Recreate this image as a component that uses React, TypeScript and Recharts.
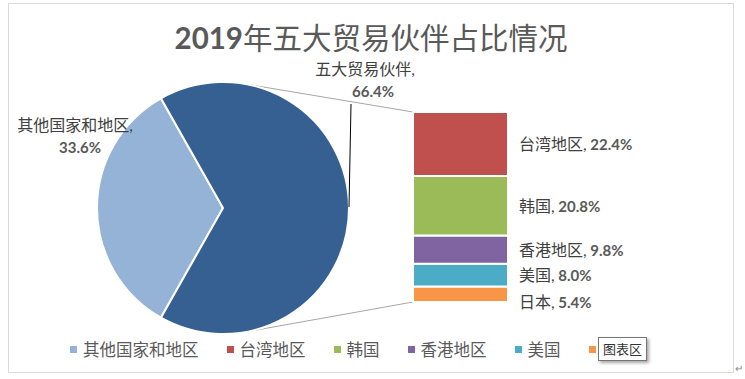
import { PieChart, Pie, Cell, BarChart, Bar, XAxis, YAxis } from 'recharts'

const title = '2019年五大贸易伙伴占比情况'
const otherName = '其他国家和地区'
const otherValue = 33.6
const partnerGroupName = '五大贸易伙伴'
const partnerNames = ['台湾地区', '韩国', '香港地区', '美国', '日本']
const partnerValues = [22.4, 20.8, 9.8, 8.0, 5.4]

const otherColor = '#95B3D7'
const groupColor = '#376092'
const partnerColors = ['#C0504D', '#9BBB59', '#8064A2', '#4BACC6', '#F79646']

const W = 745
const H = 379
const PIE_CX = 223
const PIE_CY = 208
const PIE_R = 126
const BAR_LEFT = 413
const BAR_RIGHT = 508
const BAR_TOP = 112
const BAR_BOTTOM = 302

const FONT = "Lato, 'Noto Sans CJK SC', sans-serif"
const TEXT = '#404040'
const NUM = '#595959'

const partnerTotal = partnerValues.reduce((a, b) => a + b, 0)
const pieData = [
  { name: otherName, value: otherValue },
  { name: partnerGroupName, value: partnerTotal },
]
const barRow: Record<string, any> = { cat: partnerGroupName }
partnerNames.forEach((n, i) => (barRow[n] = partnerValues[i]))
const barData = [barRow]

const startAngle = 180 - (otherValue / (otherValue + partnerTotal)) * 180
// label offsets from slice mid point on the rim (style only)
const pieLabelOffset = [
  { dx: -17, dy: -77, nameDx: -5 },
  { dx: 24, dy: -133, nameDx: -8 },
]

const RADIAN = Math.PI / 180

const PieLabel = (props: any) => {
  const { cx, cy, midAngle, outerRadius, index, name, value } = props
  const ex = cx + outerRadius * Math.cos(-midAngle * RADIAN)
  const ey = cy + outerRadius * Math.sin(-midAngle * RADIAN)
  const off = pieLabelOffset[index]
  const lx = ex + off.dx
  const ly = ey + off.dy
  return (
    <g>
      <text x={lx + off.nameDx} y={ly} textAnchor="middle" fontFamily={FONT} fontSize={16} fill={TEXT}>
        {name},
      </text>
      <text x={lx} y={ly + 22} textAnchor="middle" fontFamily={FONT} fontSize={15} fontWeight="bold" fill={NUM}>
        {Number(value).toFixed(1)}%
      </text>
      {index === 1 && <line x1={ex} y1={ey - 1} x2={ex + 2} y2={ly + 29} stroke="#000" strokeWidth={1} />}
    </g>
  )
}

const tangentPoint = (px: number, py: number, upper: boolean) => {
  const dx = px - PIE_CX
  const dy = py - PIE_CY
  const d = Math.sqrt(dx * dx + dy * dy)
  const phi = Math.atan2(dy, dx)
  const a = Math.acos(PIE_R / d)
  const t = upper ? phi - a : phi + a
  return { x: PIE_CX + PIE_R * Math.cos(t), y: PIE_CY + PIE_R * Math.sin(t) }
}

const makeBarLabel = (name: string, value: number) => (props: any) => {
  const { x, y, width, height } = props
  const ly = height < 18 ? y + height : y + height / 2
  return (
    <text x={x + width + 11} y={ly + 6} fontFamily={FONT} fontSize={16} fill={TEXT}>
      {name},<tspan fontWeight="bold" fill={NUM} fontSize={15}> {value.toFixed(1)}%</tspan>
    </text>
  )
}

export default function App() {
  const top = tangentPoint(BAR_LEFT, BAR_TOP, true)
  const bottom = tangentPoint(BAR_LEFT, BAR_BOTTOM, false)
  const legendNames = [otherName, ...partnerNames]
  const legendColors = [otherColor, ...partnerColors]

  return (
    <div style={{ position: 'absolute', left: 0, top: 0, width: W, height: H, background: '#fff', overflow: 'hidden' }}>
      <div
        style={{
          position: 'absolute',
          left: 8,
          top: 3,
          width: 726,
          height: 370,
          border: '1px solid #D9D9D9',
          boxSizing: 'border-box',
        }}
      />
      <svg width={W} height={H} style={{ position: 'absolute', left: 0, top: 0 }}>
        <text x={371} y={49} textAnchor="middle" fontFamily={FONT} fontSize={29.5} fill="#595959">
          <tspan fontWeight="bold">2019</tspan>
          {title.replace('2019', '')}
        </text>
        <line x1={top.x} y1={top.y} x2={BAR_LEFT} y2={BAR_TOP} stroke="#A6A6A6" strokeWidth={1} />
        <line x1={bottom.x} y1={bottom.y} x2={BAR_LEFT} y2={BAR_BOTTOM} stroke="#A6A6A6" strokeWidth={1} />
      </svg>
      <div style={{ position: 'absolute', left: 0, top: 0 }}>
        <PieChart width={W} height={H} margin={{ top: 0, right: 0, bottom: 0, left: 0 }}>
          <Pie
            data={pieData}
            dataKey="value"
            nameKey="name"
            cx={PIE_CX}
            cy={PIE_CY}
            outerRadius={PIE_R}
            startAngle={startAngle}
            endAngle={startAngle + 360}
            stroke="#fff"
            strokeWidth={2}
            label={PieLabel}
            labelLine={false}
            isAnimationActive={false}
          >
            <Cell fill={otherColor} />
            <Cell fill={groupColor} />
          </Pie>
        </PieChart>
      </div>
      <div style={{ position: 'absolute', left: 0, top: 0 }}>
        <BarChart
          width={W}
          height={H}
          data={barData}
          margin={{ top: BAR_TOP, bottom: H - BAR_BOTTOM, left: BAR_LEFT, right: W - BAR_RIGHT }}
          barCategoryGap={0}
        >
          <XAxis dataKey="cat" hide />
          <YAxis hide domain={[0, partnerTotal]} />
          {[...partnerNames].reverse().map((n) => {
            const i = partnerNames.indexOf(n)
            return (
              <Bar
                key={n}
                dataKey={n}
                stackId="a"
                fill={partnerColors[i]}
                stroke="#fff"
                strokeWidth={2}
                label={makeBarLabel(n, partnerValues[i])}
                isAnimationActive={false}
              />
            )
          })}
        </BarChart>
      </div>
      <div
        style={{
          position: 'absolute',
          left: 70,
          top: 337,
          display: 'flex',
          alignItems: 'center',
          fontFamily: FONT,
          fontSize: 16.5,
          color: '#595959',
          whiteSpace: 'nowrap',
        }}
      >
        {legendNames.map((n, i) => (
          <div key={n} style={{ display: 'flex', alignItems: 'center', marginRight: 28 }}>
            <span style={{ width: 7, height: 7, background: legendColors[i], marginRight: 6, display: 'inline-block' }} />
            <span>{n}</span>
          </div>
        ))}
      </div>
      <div
        style={{
          position: 'absolute',
          left: 598,
          top: 337,
          width: 49,
          height: 24,
          border: '1px solid #767676',
          background: '#fff',
          boxShadow: '2px 2px 3px rgba(0,0,0,0.35)',
          fontFamily: FONT,
          fontSize: 13,
          color: '#333',
          lineHeight: '22px',
          textAlign: 'center',
          boxSizing: 'border-box',
        }}
      >
        图表区
      </div>
      <div style={{ position: 'absolute', left: 735, top: 362, fontSize: 10, color: '#888', fontFamily: FONT }}>↵</div>
    </div>
  )
}
